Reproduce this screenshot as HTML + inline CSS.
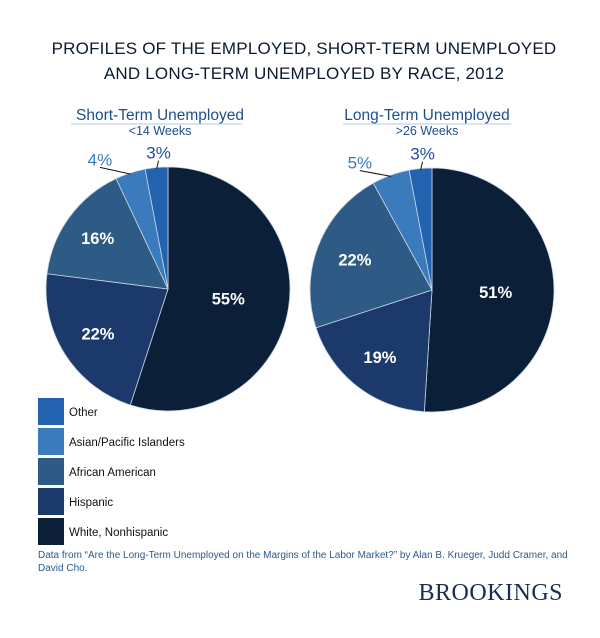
<!DOCTYPE html>
<html><head><meta charset="utf-8"><style>
body{margin:0;background:#fff;}
svg{display:block;font-family:"Liberation Sans",sans-serif;}
</style></head><body>
<svg width="600" height="638" viewBox="0 0 600 638">
<text x="304" y="54" text-anchor="middle" font-size="17" fill="#0b1a2e" letter-spacing="0.2">PROFILES OF THE EMPLOYED, SHORT-TERM UNEMPLOYED</text>
<text x="304" y="79" text-anchor="middle" font-size="17" fill="#0b1a2e" letter-spacing="0.2">AND LONG-TERM UNEMPLOYED BY RACE, 2012</text>
<text x="160" y="120" text-anchor="middle" font-size="15.5" fill="#1d4e8f">Short-Term Unemployed</text>
<line x1="71" y1="124" x2="242" y2="124" stroke="#b8c8dc" stroke-width="1"/>
<text x="160" y="135" text-anchor="middle" font-size="12.5" fill="#1d4e8f">&lt;14 Weeks</text>
<text x="427" y="120" text-anchor="middle" font-size="15.5" fill="#1d4e8f">Long-Term Unemployed</text>
<line x1="343" y1="124" x2="511" y2="124" stroke="#b8c8dc" stroke-width="1"/>
<text x="427" y="135" text-anchor="middle" font-size="12.5" fill="#1d4e8f">&gt;26 Weeks</text>
<g id="pies"></g>
<g id="legend"></g>
<text x="38" y="558" font-size="10" fill="#2c5a8a">Data from “Are the Long-Term Unemployed on the Margins of the Labor Market?” by Alan B. Krueger, Judd Cramer, and</text>
<text x="38" y="571" font-size="10" fill="#2c5a8a">David Cho.</text>
<text x="563" y="600" text-anchor="end" font-family="Liberation Serif,serif" font-size="24" fill="#1a2c55" letter-spacing="0.5">BROOKINGS</text>
</svg>
<script>
const categories = ["White, Nonhispanic","Hispanic","African American","Asian/Pacific Islanders","Other"];
const shortTermValues = [55,22,16,4,3];
const longTermValues = [51,19,22,5,3];
const colors = ["#0b1f38","#1b3a6b","#2e5b85","#3b7bbd","#2262ae"];
const NS="http://www.w3.org/2000/svg";
const pies=document.getElementById('pies');
function mk(t,a,p){const e=document.createElementNS(NS,t);for(const k in a)e.setAttribute(k,a[k]);(p||pies).appendChild(e);return e;}
function pt(cx,cy,r,f){const a=f*2*Math.PI;return [cx+r*Math.sin(a),cy-r*Math.cos(a)];}
function drawPie(vals,cx,cy,r,name){
  const tot=vals.reduce((a,b)=>a+b,0);let acc=0;
  vals.forEach((v,i)=>{
    const f0=acc/tot,f1=(acc+v)/tot;acc+=v;
    const p0=pt(cx,cy,r,f0),p1=pt(cx,cy,r,f1);
    const large=(f1-f0)>0.5?1:0;
    const s=mk('path',{d:`M${cx},${cy}L${p0[0]},${p0[1]}A${r},${r} 0 ${large} 1 ${p1[0]},${p1[1]}Z`,fill:colors[i],stroke:'#c9d6e6','stroke-width':0.8});
    
    
    const fm=(f0+f1)/2;
    if(v/tot>=0.1){
      const k=0.5+0.3*Math.max(0,1-(v/tot)/0.55);
      const lp=pt(cx,cy,r*k,fm);
      const t=mk('text',{x:lp[0],y:lp[1]+6,'text-anchor':'middle','font-size':16.5,'font-weight':'bold',fill:'#fff'});
      t.textContent=v+'%';
      
      
    }else{
      const isOther=(i===categories.length-1);
      const lp=isOther?pt(cx,cy,r*1.12,fm+0.004):pt(cx,cy,r*1.2,fm-0.027);
      const a=pt(cx,cy,r*0.99,fm);
      const b=[lp[0],lp[1]+8];
      mk('line',{x1:a[0],y1:a[1],x2:b[0],y2:b[1],stroke:'#111','stroke-width':1});
      const t=mk('text',{x:lp[0],y:lp[1]+6,'text-anchor':'middle','font-size':17,fill:isOther?'#1d4e9f':'#3b7bbd'});
      t.textContent=v+'%';
      
      
    }
  });
}
drawPie(shortTermValues,168,289,122,'short-term');
drawPie(longTermValues,432,290,122,'long-term');
const lg=document.getElementById('legend');
const order=[4,3,2,1,0];
order.forEach((ci,k)=>{
  const y=398+k*30;
  const r=mk('rect',{x:38,y:y,width:26,height:27,fill:colors[ci]},lg);
  
  
  const t=mk('text',{x:69,y:y+18,'font-size':11.5,fill:'#111'},lg);
  t.textContent=categories[ci];
  
  
});
</script>
</body></html>
